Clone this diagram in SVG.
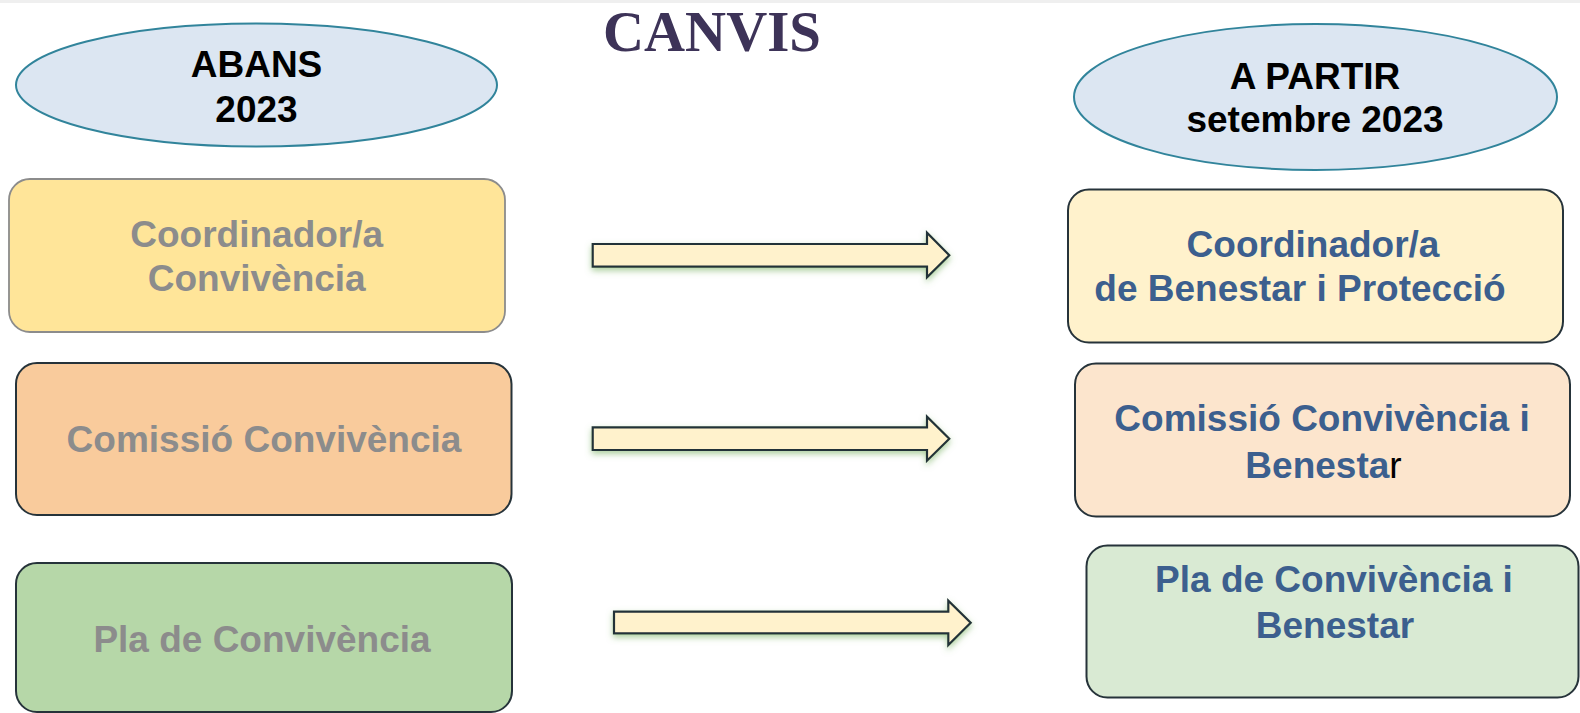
<svg xmlns="http://www.w3.org/2000/svg" width="1580" height="713" viewBox="0 0 1580 713">
<defs>
<filter id="glow" x="-5%" y="-40%" width="110%" height="200%">
<feDropShadow dx="0" dy="3" stdDeviation="3" flood-color="#6aa84f" flood-opacity="0.55"/>
</filter>
<style>
.t{font-family:"Liberation Sans",Arial,sans-serif;font-weight:bold;font-size:37px;text-anchor:middle}
.blk{fill:#000}
.gry{fill:#8c8c8c}
.blu{fill:#3c5f8e}
.ell{fill:#dce6f2;stroke:#31849b;stroke-width:2}
.box{stroke:#26333a;stroke-width:2}
.arr{fill:#fff2cc;stroke:#243238;stroke-width:2.2;stroke-linejoin:miter;filter:url(#glow)}
</style>
</defs>
<rect x="0" y="0" width="1580" height="713" fill="#ffffff"/>
<rect x="0" y="0" width="1580" height="3" fill="#efefef"/>
<g id="title">
<text x="712" y="51" text-anchor="middle" font-family="'Liberation Serif','Times New Roman',serif" font-weight="bold" font-size="57" fill="#3d3358" textLength="218" lengthAdjust="spacingAndGlyphs">CANVIS</text>
</g>
<g id="abans">
<ellipse class="ell" cx="256.5" cy="85" rx="240.5" ry="61.5"/>
<text class="t blk" x="256.5" y="77.3">ABANS</text>
<text class="t blk" x="256.5" y="121.7">2023</text>
</g>
<g id="apartir">
<ellipse class="ell" cx="1315.5" cy="97" rx="241.5" ry="73"/>
<text class="t blk" x="1315" y="88.5">A PARTIR</text>
<text class="t blk" x="1315" y="131.8">setembre 2023</text>
</g>
<g id="old-coord">
<rect x="9" y="179" width="496" height="153" rx="21" fill="#ffe599" stroke="#8c8c8c" stroke-width="1.8"/>
<text class="t gry" x="256.7" y="246.7">Coordinador/a</text>
<text class="t gry" x="256.7" y="290.7">Convivència</text>
</g>
<g id="old-comissio">
<rect class="box" x="16" y="363" width="495.5" height="152" rx="21" fill="#f9cb9c"/>
<text class="t gry" x="264" y="451.7">Comissió Convivència</text>
</g>
<g id="old-pla">
<rect class="box" x="16" y="563" width="496" height="149" rx="21" fill="#b6d7a8"/>
<text class="t gry" x="262" y="651.7">Pla de Convivència</text>
</g>
<g id="new-coord">
<rect class="box" x="1068" y="189.5" width="495" height="153" rx="21" fill="#fff2cc"/>
<text class="t blu" x="1313" y="257.3">Coordinador/a</text>
<text class="t blu" x="1300" y="301.3">de Benestar i Protecció</text>
</g>
<g id="new-comissio">
<rect class="box" x="1075" y="363.5" width="495" height="153" rx="21" fill="#fce5cd"/>
<text class="t blu" x="1322" y="431">Comissió Convivència i</text>
<text class="t" x="1323.5" y="478"><tspan class="blu">Benesta</tspan><tspan class="blk" style="font-weight:normal">r</tspan></text>
</g>
<g id="new-pla">
<rect class="box" x="1086.5" y="545.5" width="492" height="152" rx="21" fill="#d9ead3"/>
<text class="t blu" x="1334" y="591.5">Pla de Convivència i</text>
<text class="t blu" x="1335" y="637.5">Benestar</text>
</g>
<g id="connectors">
<polygon class="arr" points="592.7,244 927,244 927,232.7 949.3,255.3 927,277.3 927,266.7 592.7,266.7"/>
<polygon class="arr" points="592.7,427.3 927,427.3 927,416.7 949.3,438.7 927,460.7 927,450 592.7,450"/>
<polygon class="arr" points="614,611.7 948.3,611.7 948.3,600.7 970.7,622.8 948.3,645 948.3,633.3 614,633.3"/>
</g>
</svg>
